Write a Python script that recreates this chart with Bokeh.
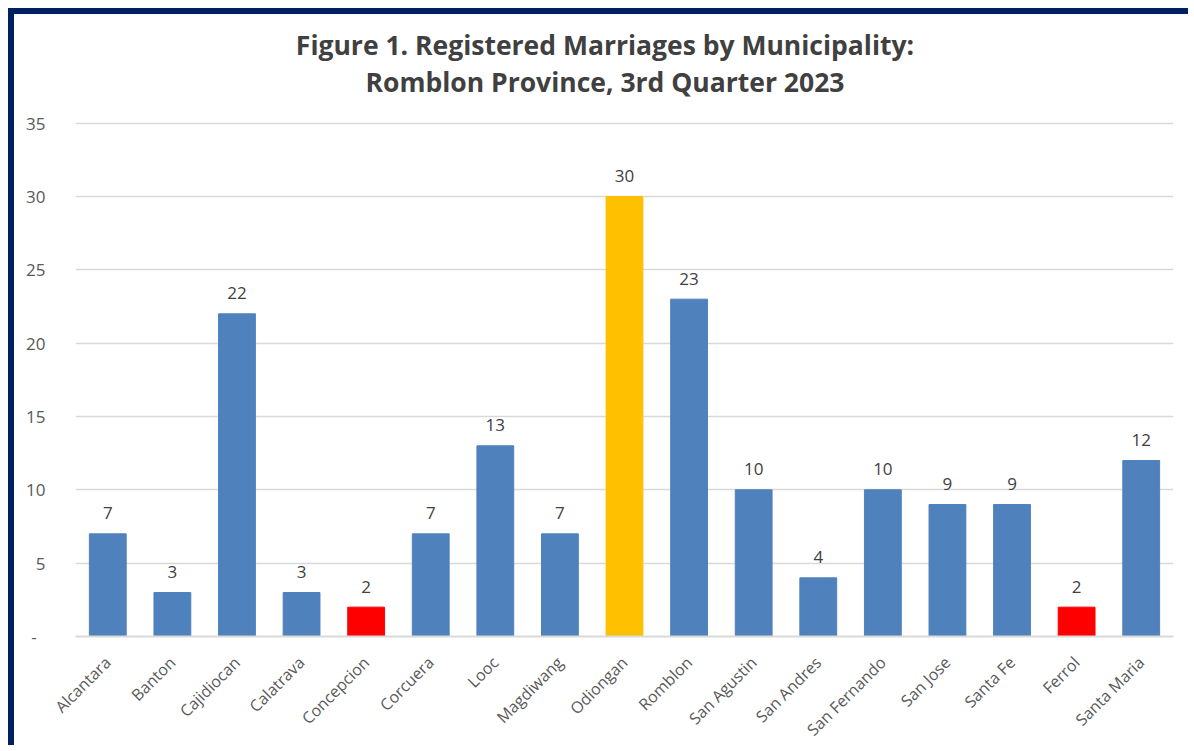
import math
from bokeh.plotting import figure
from bokeh.models import ColumnDataSource, FactorRange, Range1d, Label, LabelSet, FixedTicker
from bokeh.core.properties import value
from bokeh.embed import file_html
from bokeh.resources import INLINE

categories = ["Alcantara", "Banton", "Cajidiocan", "Calatrava", "Concepcion", "Corcuera",
              "Looc", "Magdiwang", "Odiongan", "Romblon", "San Agustin", "San Andres",
              "San Fernando", "San Jose", "Santa Fe", "Ferrol", "Santa Maria"]
values = [7, 3, 22, 3, 2, 7, 13, 7, 30, 23, 10, 4, 10, 9, 9, 2, 12]
y_ticks = [0, 5, 10, 15, 20, 25, 30, 35]
title_line1 = "Figure 1. Registered Marriages by Municipality:"
title_line2 = "Romblon Province, 3rd Quarter 2023"

BLUE = "#4F81BD"
RED = "#FF0000"
GOLD = "#FFC000"
FONT = "Open Sans"

# layout (canvas pixels)
W, H = 1180, 737
LEFT, RIGHT, BOTTOM = 61, 21, 113
FRAME_H = H - BOTTOM            # frame spans from canvas top to the x axis
AXIS_TOP_PX = 515               # pixel height of 0..35
px_per_unit = AXIS_TOP_PX / y_ticks[-1]
y_end = FRAME_H / px_per_unit
cat_px = (W - LEFT - RIGHT) / len(categories)

colors = [GOLD if v == max(values) else (RED if v == min(values) else BLUE) for v in values]
src = ColumnDataSource(dict(cat=categories, val=values, color=colors,
                            label=[str(v) for v in values]))

p = figure(x_range=FactorRange(factors=categories, range_padding=0),
           y_range=Range1d(0, y_end),
           width=W, height=H,
           output_backend="svg", toolbar_location=None,
           min_border_left=LEFT, min_border_right=RIGHT,
           min_border_top=0, min_border_bottom=BOTTOM,
           background_fill_color="white", border_fill_color="white")
p.outline_line_color = None
p.styles = {"margin-left": "8px", "margin-top": "8px",
            "border-top": "6px solid #002060", "border-left": "6px solid #002060"}

p.vbar(x="cat", top="val", width=0.57, source=src, fill_color="color", line_color="color")

labels = LabelSet(x="cat", y="val", text="label", source=src, text_align="center",
                  text_baseline="alphabetic", y_offset=14.5, text_font=value(FONT),
                  text_font_size="17px", text_color="#404040")
p.add_layout(labels)

title_cx = (590.5 - LEFT) / cat_px
for txt, base_px in ((title_line1, 31), (title_line2, 67.7)):
    p.add_layout(Label(x=title_cx, y=(FRAME_H - base_px) / px_per_unit, text=txt,
                       text_align="center", text_baseline="alphabetic", text_font=FONT,
                       text_font_size="26.5px", text_font_style="bold", text_color="#404040"))

p.yaxis.ticker = FixedTicker(ticks=y_ticks)
p.yaxis.major_label_overrides = {0: "-\u00a0\u00a0"}
p.yaxis.axis_line_color = None
p.yaxis.major_tick_line_color = None
p.yaxis.minor_tick_line_color = None
p.yaxis.major_label_standoff = 24
p.yaxis.major_label_text_font = FONT
p.yaxis.major_label_text_font_size = "17px"
p.yaxis.major_label_text_color = "#595959"

p.xaxis.axis_line_color = "#D9D9D9"
p.xaxis.axis_line_width = 2
p.xaxis.major_tick_line_color = None
p.xaxis.minor_tick_line_color = None
p.xaxis.major_label_orientation = math.pi / 4
p.xaxis.major_label_standoff = 17
p.xaxis.major_label_text_font = FONT
p.xaxis.major_label_text_font_size = "16px"
p.xaxis.major_label_text_color = "#595959"

p.xgrid.grid_line_color = None
p.ygrid.grid_line_color = "#D9D9D9"
p.ygrid.grid_line_width = 1.5

open("out.html", "w").write(file_html(p, INLINE))
